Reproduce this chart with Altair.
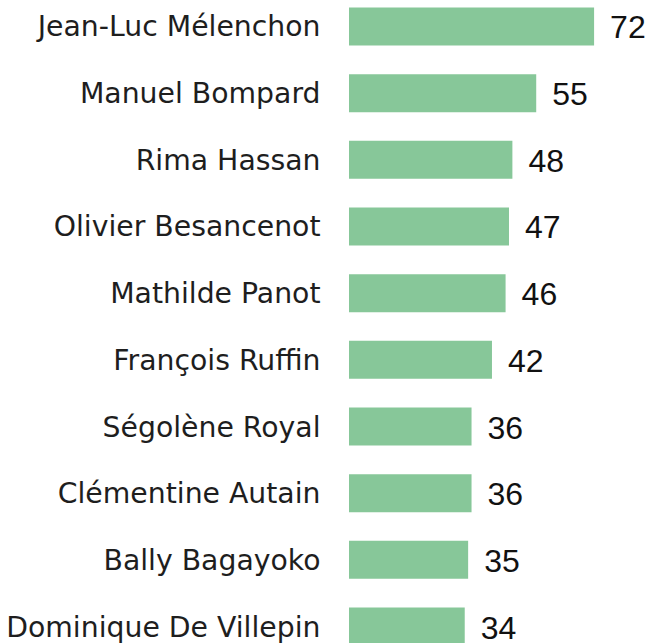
import altair as alt
import pandas as pd

names = [
    "Jean-Luc Mélenchon",
    "Manuel Bompard",
    "Rima Hassan",
    "Olivier Besancenot",
    "Mathilde Panot",
    "François Ruffin",
    "Ségolène Royal",
    "Clémentine Autain",
    "Bally Bagayoko",
    "Dominique De Villepin",
]
values = [72, 55, 48, 47, 46, 42, 36, 36, 35, 34]

df = pd.DataFrame({"name": names, "value": values})

y_enc = alt.Y(
    "name:N",
    sort=names,
    scale=alt.Scale(paddingInner=0.43, paddingOuter=0.112),
    axis=alt.Axis(
        title=None,
        domain=False,
        ticks=False,
        labelFontSize=28.3,
        labelFont="DejaVu Sans",
        labelColor="#1e1e1e",
        labelPadding=29,
        labelOffset=2,
        labelLimit=400,
    ),
)
x_scale = alt.Scale(domain=[0, 89.6], nice=False, zero=True)

base = alt.Chart(df).encode(y=y_enc)

bars = base.mark_bar(color="#87C799").encode(
    x=alt.X("value:Q", scale=x_scale, axis=None)
)
text = base.mark_text(
    align="left", baseline="middle", dx=16, dy=2, font="Liberation Sans", fontSize=32, color="#111111"
).encode(
    x=alt.X("value:Q", scale=x_scale, axis=None),
    text="value:Q",
)

chart = (
    (bars + text)
    .properties(
        width=305,
        height=653,
        padding={"left": 349, "top": 0, "right": 0, "bottom": 0},
        autosize=alt.AutoSizeParams(type="none"),
    )
    .configure_view(stroke=None)
)

chart.save("out.html", embed_options={"renderer": "svg", "actions": False})
